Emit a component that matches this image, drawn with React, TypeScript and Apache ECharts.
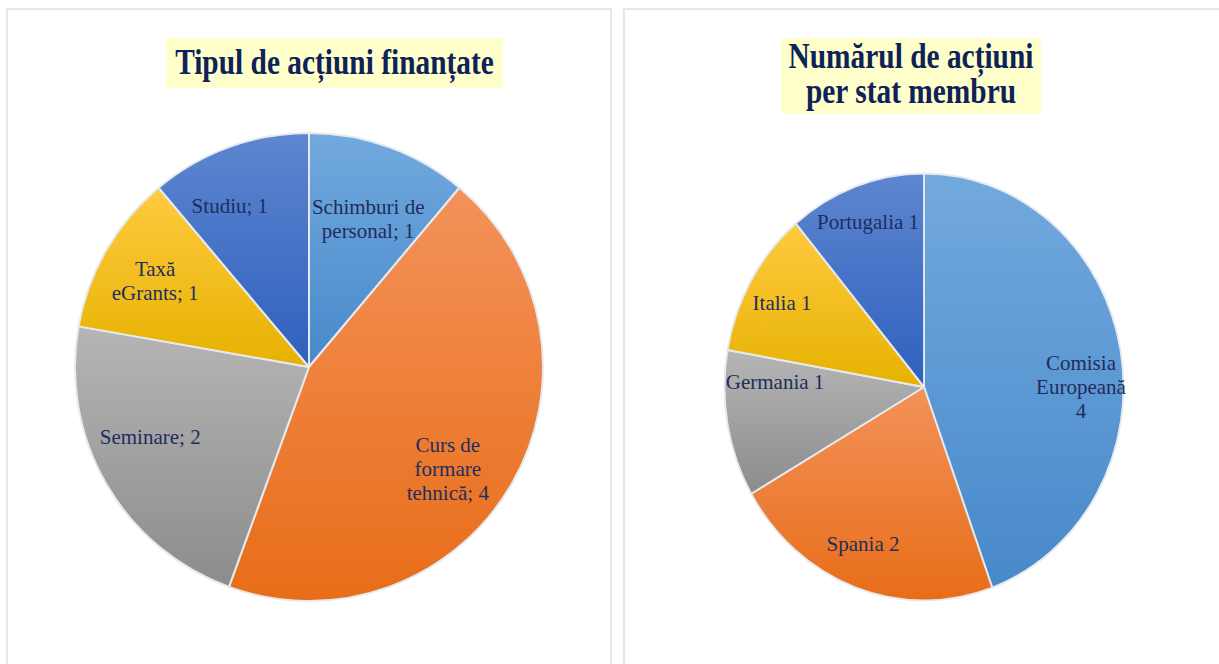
import React, { useEffect, useRef } from "react";
import * as echarts from "echarts";

// ---- data ----
const leftCategories = ["Schimburi de personal", "Curs de formare tehnică", "Seminare", "Taxă eGrants", "Studiu"];
const leftWrapped = ["Schimburi de\npersonal", "Curs de\nformare\ntehnică", "Seminare", "Taxă\neGrants", "Studiu"];
const leftValues = [1, 4, 2, 1, 1];

const rightCategories = ["Comisia Europeană", "Spania", "Germania", "Italia", "Portugalia"];
const rightWrapped = ["Comisia\nEuropeană", "Spania", "Germania", "Italia", "Portugalia"];
const rightValues = [4, 2, 1, 1, 1];

const leftTitle = "Tipul de acțiuni finanțate";
const rightTitle = "Numărul de acțiuni\nper stat membru";

// ---- styles ----
const leftLabelNudge = [[0, 15], [-11, 15], [-9, -17], [-4, 0], [-20, 2]];
const rightLabelNudge = [[-8, 30], [-3, 0], [17, -34], [4, 0], [2, -7]];

const grad = (top: string, bottom: string) =>
  new echarts.graphic.LinearGradient(0, 0, 0, 1, [
    { offset: 0, color: top },
    { offset: 1, color: bottom },
  ]);

const makePalette = () => [
  grad("#72A9DE", "#4889CA"),
  grad("#F3925A", "#E86D18"),
  grad("#B5B5B5", "#8C8C8C"),
  grad("#FFCA40", "#E6B200"),
  grad("#5E86D0", "#2E60BE"),
];

const LABEL_COLOR = "#1F2D5C";
const TITLE_COLOR = "#0E2258";
const SERIF = '"Liberation Serif", "Times New Roman", serif';

const labelStyle = {
  show: true,
  position: "inside" as const,
  fontFamily: SERIF,
  fontSize: 21,
  lineHeight: 24,
  color: LABEL_COLOR,
  align: "center" as const,
};

const RCX = 923.5;
const RCY = 386.5;
const RR = 213.5;
const RSCALE = 0.9345;
const BOX = 440;

export default function App() {
  const mainRef = useRef<HTMLDivElement>(null);
  const rightRef = useRef<HTMLDivElement>(null);

  useEffect(() => {
    const main = echarts.init(mainRef.current!, undefined, { renderer: "svg" });
    const right = echarts.init(rightRef.current!, undefined, { renderer: "svg" });
    const palette = makePalette();
    const palette2 = makePalette();

    main.setOption({
      animation: false,
      backgroundColor: "transparent",
      graphic: [
        { type: "rect", shape: { x: 7, y: 9, width: 604, height: 720 }, style: { fill: "none", stroke: "#DCE1E8", lineWidth: 1.5 }, silent: true },
        { type: "rect", shape: { x: 624, y: 9, width: 640, height: 720 }, style: { fill: "none", stroke: "#DCE1E8", lineWidth: 1.5 }, silent: true },
        { type: "rect", shape: { x: 166, y: 38, width: 337, height: 50 }, style: { fill: "#FFFFCC" }, silent: true },
        {
          type: "text", x: 334.5, y: 62, scaleX: 0.84, silent: true,
          style: { text: leftTitle, fontFamily: SERIF, fontWeight: "bold", fontSize: 35, fill: TITLE_COLOR, align: "center", verticalAlign: "middle" },
        },
        { type: "rect", shape: { x: 781, y: 38, width: 260, height: 76 }, style: { fill: "#FFFFCC" }, silent: true },
        {
          type: "text", x: 911, y: 74, scaleX: 0.84, silent: true,
          style: { text: rightTitle, fontFamily: SERIF, fontWeight: "bold", fontSize: 35, lineHeight: 35, fill: TITLE_COLOR, align: "center", verticalAlign: "middle" },
        },
      ],
      series: [
        {
          type: "pie",
          center: [309, 367],
          radius: 234,
          startAngle: 90,
          clockwise: true,
          silent: true,
          emphasis: { disabled: true },
          label: { show: false },
          labelLine: { show: false },
          itemStyle: { borderColor: "#E6EAF0", borderWidth: 2 },
          data: leftValues.map((v, i) => ({ value: v, name: leftCategories[i], itemStyle: { color: palette[i] } })),
        },
        {
          type: "pie",
          center: [309, 367],
          radius: [106, 234],
          startAngle: 90,
          clockwise: true,
          silent: true,
          emphasis: { disabled: true },
          itemStyle: { color: "rgba(0,0,0,0)", borderWidth: 0 },
          labelLine: { show: false },
          label: {
            ...labelStyle,
            formatter: (p: any) => `${leftWrapped[p.dataIndex]}; ${p.value}`,
          },
          labelLayout: (p: any) => ({ dx: leftLabelNudge[p.dataIndex][0], dy: leftLabelNudge[p.dataIndex][1] }),
          data: leftValues.map((v, i) => ({ value: v, name: leftCategories[i] })),
        },
        {
          type: "pie",
          center: [RCX, RCY],
          radius: [120, 210],
          startAngle: 90,
          clockwise: true,
          silent: true,
          emphasis: { disabled: true },
          itemStyle: { color: "rgba(0,0,0,0)", borderWidth: 0 },
          labelLine: { show: false },
          label: {
            ...labelStyle,
            formatter: (p: any) => {
              const n = rightWrapped[p.dataIndex];
              return n.includes("\n") ? `${n}\n${p.value}` : `${n} ${p.value}`;
            },
          },
          labelLayout: (p: any) => ({ dx: rightLabelNudge[p.dataIndex][0], dy: rightLabelNudge[p.dataIndex][1] }),
          data: rightValues.map((v, i) => ({ value: v, name: rightCategories[i] })),
        },
      ],
    });

    right.setOption({
      animation: false,
      series: [
        {
          type: "pie",
          center: ["50%", "50%"],
          radius: RR,
          startAngle: 90,
          clockwise: true,
          silent: true,
          emphasis: { disabled: true },
          label: { show: false },
          labelLine: { show: false },
          itemStyle: { borderColor: "#E6EAF0", borderWidth: 2 },
          data: rightValues.map((v, i) => ({ value: v, name: rightCategories[i], itemStyle: { color: palette2[i] } })),
        },
      ],
    });

    return () => {
      main.dispose();
      right.dispose();
    };
  }, []);

  return (
    <div style={{ position: "absolute", left: 0, top: 0, width: 1219, height: 664, overflow: "hidden", background: "#fff" }}>
      <div
        ref={rightRef}
        style={{
          position: "absolute",
          left: RCX - BOX / 2,
          top: RCY - BOX / 2,
          width: BOX,
          height: BOX,
          transform: `scaleX(${RSCALE})`,
          transformOrigin: "50% 50%",
          zIndex: 0,
        }}
      />
      <div ref={mainRef} style={{ position: "absolute", left: 0, top: 0, width: 1219, height: 664, zIndex: 1 }} />
    </div>
  );
}
